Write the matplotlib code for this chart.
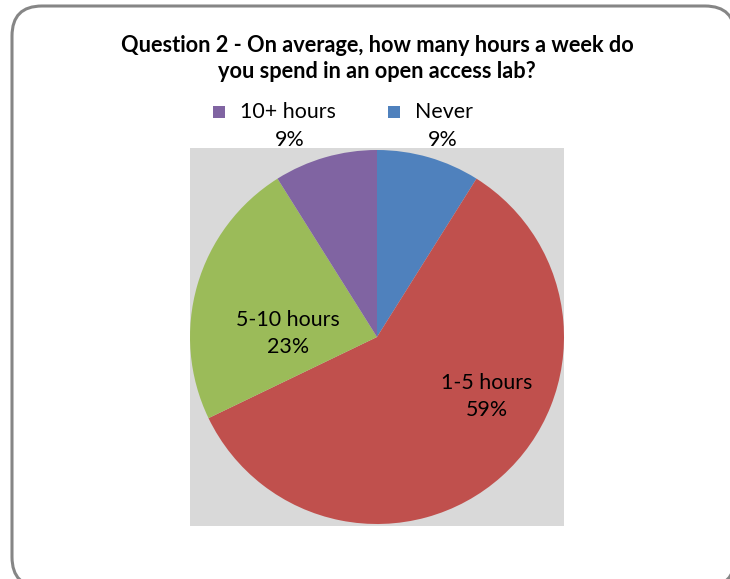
import matplotlib
matplotlib.use("Agg")
import matplotlib.pyplot as plt
from matplotlib.patches import FancyBboxPatch, Rectangle
from matplotlib.transforms import IdentityTransform

plt.rcParams['font.family'] = ['Lato', 'DejaVu Sans']

title = "Question 2 - On average, how many hours a week do\nyou spend in an open access lab?"
categories = ["Never", "1-5 hours", "5-10 hours", "10+ hours"]
counts = [5, 33, 13, 5]
colors = ["#4F81BD", "#C0504D", "#9BBB59", "#8064A2"]

W, H = 730, 579
fig = plt.figure(figsize=(W / 100, H / 100), dpi=100)
fig.patch.set_facecolor("white")

# rounded outer frame (pixels, origin bottom-left)
frame = FancyBboxPatch((12, -8), 723, 581, boxstyle="round,pad=0,rounding_size=30",
                       transform=IdentityTransform(), facecolor="white",
                       edgecolor="#868686", linewidth=2.2, zorder=0)
fig.add_artist(frame)

def fx(x):
    return x / W

def fy(y):
    return 1 - y / H

# plot area
left, top, right, bottom = 190, 148, 564, 526
ax = fig.add_axes([fx(left), fy(bottom), (right - left) / W, (bottom - top) / H])
ax.set_facecolor("#D9D9D9")
total = sum(counts)
wedges, _ = ax.pie(counts, colors=colors, startangle=90, counterclock=False,
                   radius=1.0, frame=True, wedgeprops=dict(linewidth=0))
ax.set_aspect("auto")
r_px = (right - left) / 2
half_h = (bottom - top) / 2 / r_px
ax.set_xlim(-1, 1)
ax.set_ylim(-half_h, half_h)
ax.set_xticks([])
ax.set_yticks([])
for s in ax.spines.values():
    s.set_visible(False)

pct = [round(100 * c / total) for c in counts]

# title
lines = title.split("\n")
fig.text(fx(377), fy(45), lines[0], ha="center", va="center",
         fontsize=15.7, fontweight="bold", color="black")
fig.text(fx(377), fy(72), lines[1], ha="center", va="center",
         fontsize=15.7, fontweight="bold", color="black")

fs = 15.4
# outside labels with legend keys
ext = [(3, 213, 240, 290), (0, 388, 415, 443)]
for idx, kx, tx, px in ext:
    fig.add_artist(Rectangle((fx(kx), fy(118)), 12 / W, 12 / H, transform=fig.transFigure,
                             facecolor=colors[idx], edgecolor="none"))
    fig.text(fx(tx), fy(112), categories[idx], ha="left", va="center", fontsize=fs)
    fig.text(fx(px), fy(140), f"{pct[idx]}%", ha="center", va="center", fontsize=fs)

# inside labels
inside = [(2, 288, 320), (1, 487, 383)]
for idx, x, y in inside:
    fig.text(fx(x), fy(y), categories[idx], ha="center", va="center", fontsize=fs)
    fig.text(fx(x), fy(y + 27), f"{pct[idx]}%", ha="center", va="center", fontsize=fs)

fig.savefig("out.png", dpi=100)
